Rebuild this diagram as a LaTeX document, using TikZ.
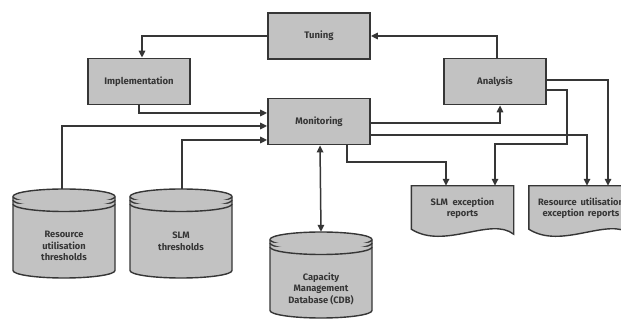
\documentclass[tikz,border=0pt]{standalone}
\usepackage{fontspec}
\setmainfont{Fira Sans}
\usetikzlibrary{arrows.meta,calc}
\definecolor{boxfill}{HTML}{C2C2C2}
\definecolor{ink}{HTML}{363636}
\newcommand{\cylshape}[4]{% left, right, top, bottom
  \pgfmathsetmacro{\rxx}{(#2-#1)/2}
  \filldraw[cyl] (#1,#3+7.5) -- (#1,#4-7.5) arc[start angle=180,end angle=360,x radius=\rxx pt,y radius=7.5pt]
    -- (#2,#3+7.5) arc[start angle=0,end angle=180,x radius=\rxx pt,y radius=7.5pt] -- cycle;
  \draw[cyl] (#1,#3+7.5) arc[start angle=180,end angle=360,x radius=\rxx pt,y radius=7.5pt];
  \draw[cyl] (#1,#3+11) arc[start angle=180,end angle=360,x radius=\rxx pt,y radius=7.5pt];
  \draw[cyl] (#1,#3+15) arc[start angle=180,end angle=360,x radius=\rxx pt,y radius=7.5pt];
}
\newcommand{\docshape}[1]{%
  \filldraw[cyl] (#1.north west) -- (#1.north east) -- ([yshift=2pt]#1.south east)
    .. controls ([xshift=-23pt,yshift=20pt]#1.south east) and ([xshift=33pt,yshift=-14pt]#1.south west) ..
    ([yshift=7pt]#1.south west) -- cycle;
}
\begin{document}
\begin{tikzpicture}[x=1pt,y=-1pt,
  box/.style={draw=ink,line width=1.8pt,fill=boxfill,minimum width=102pt,minimum height=46pt,
    font=\fontsize{9.5}{11}\selectfont\bfseries,text=ink},
  anchorbox/.style={minimum width=102pt,inner sep=0pt},
  lbl/.style={font=\fontsize{9.3}{11.5}\selectfont\bfseries,text=ink,align=center,inner sep=0pt},
  cyl/.style={draw=ink,line width=1.4pt,fill=boxfill},
  conn/.style={draw=ink,line width=1.5pt,-{Triangle[length=7pt,width=6.5pt]}},
  dconn/.style={draw=ink,line width=1.5pt,{Triangle[length=7pt,width=6.5pt]}-{Triangle[length=7pt,width=6.5pt]}}]
\clip (0,0) rectangle (621,320);
\fill[white] (0,0) rectangle (621,320);

\node[box] (tun) at (319,36) {Tuning};
\node[box] (impl) at (139,81.5) {Implementation};
\node[box] (mon) at (319,121.5) {Monitoring};
\node[box] (ana) at (495,81.5) {Analysis};

% cylinders
\cylshape{13}{115}{189}{278}
\node[anchorbox,minimum height=89pt] (rc) at (64,233.5) {};
\node[lbl] (rctext) at (64,246) {Resource\\utilisation\\thresholds};
\cylshape{130}{232}{189}{278}
\node[anchorbox,minimum height=89pt] (sc) at (181,233.5) {};
\node[lbl] (sctext) at (181,241.5) {SLM\\thresholds};
\cylshape{270}{372}{232}{318}
\node[anchorbox,minimum height=86pt] (cdb) at (321,275) {};
\node[lbl] (cdbtext) at (321,288.5) {Capacity\\Management\\Database (CDB)};

% documents
\node[anchorbox,minimum height=50pt] (srep) at (462.5,211) {};
\docshape{srep}
\node[lbl] (sreptext) at (462.5,208.5) {SLM\hspace{0.5em}exception\\reports};
\node[anchorbox,minimum height=50pt] (rrep) at (580,211) {};
\docshape{rrep}
\node[lbl] (rreptext) at (581,208.5) {Resource\hspace{0.4em}utilisation\\exception\hspace{0.4em}reports};

% connectors
\draw[conn] (tun.west) -| ([xshift=3pt]impl.north);
\draw[conn] ([xshift=2pt]ana.north) |- (tun.east);
\draw[conn] (impl.south) |- ([yshift=8.5pt]mon.west);
\draw[conn] ([xshift=-2pt]rc.north) |- ([yshift=-4.5pt]mon.west);
\draw[conn] ([xshift=1pt]sc.north) |- ([yshift=-18.5pt]mon.west);
\draw[conn] ([yshift=-1.5pt]mon.east) -| ([xshift=5pt]ana.south);
\draw[conn] ([yshift=-13.5pt]mon.east) -| ([xshift=7pt]rrep.north);
\draw[conn] ([yshift=1.5pt]ana.east) -| ([xshift=28pt]rrep.north);
\coordinate (k1) at (567,144);
\draw[conn] ([yshift=-8.5pt]ana.east) -| (k1) -| ([xshift=32.5pt]srep.north);
\coordinate (k2) at (347,162);
\draw[conn] ([xshift=28pt]mon.south) |- (k2) -| ([xshift=-16.5pt]srep.north);
\draw[dconn] ([xshift=1pt]mon.south) -- (cdb.north);
\end{tikzpicture}
\end{document}
